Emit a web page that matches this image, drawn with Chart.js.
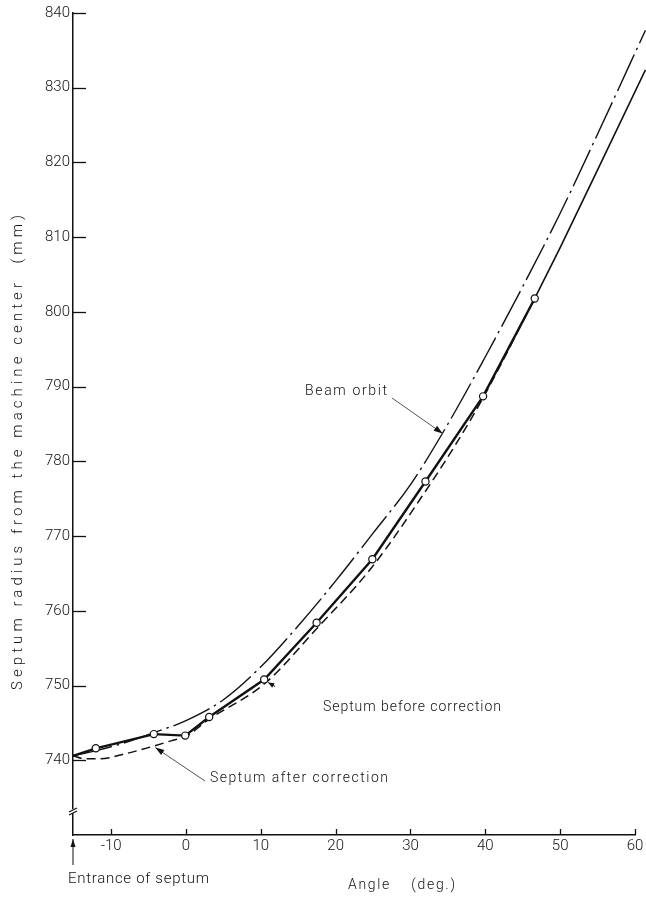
<!DOCTYPE html>
<html><head><meta charset="utf-8">
<script src="https://cdn.jsdelivr.net/npm/chart.js@4.4.0/dist/chart.umd.min.js"></script>
<style>html,body{margin:0;padding:0;background:#fff}canvas{display:block}</style>
</head><body>
<canvas id="c" width="646" height="897"></canvas>
<script>
// ---- tick labels ----
const xTicks = [-10, 0, 10, 20, 30, 40, 50, 60];
const yTicks = [740, 750, 760, 770, 780, 790, 800, 810, 820, 830, 840];

// ---- Beam orbit (dash-dot) ----
const beamAngle  = [-15.1, -12, -8, -4, 0, 5, 10, 15, 20, 25, 30, 35, 40, 45, 50, 55, 61.4];
const beamRadius = [740.6, 741.3, 742.4, 743.8, 745.3, 748.1, 752.5, 758.0, 764.0, 770.4, 776.9, 785.0, 794.0, 803.4, 813.2, 823.8, 837.7];

// ---- Septum before correction (solid) ----
const beforeAngle  = [-15.1, -12.05, -4.3, -0.1, 3.1, 10.45, 17.45, 24.9, 32.0, 39.7, 46.6, 50, 55, 61.4];
const beforeRadius = [740.6, 741.6, 743.5, 743.3, 745.8, 750.8, 758.4, 766.9, 777.3, 788.7, 801.8, 808.6, 819.0, 832.4];

// ---- measured points (open circles) ----
const measuredAngle  = [-12.05, -4.3, -0.1, 3.1, 10.45, 17.45, 24.9, 32.0, 39.7, 46.6];
const measuredRadius = [741.6, 743.5, 743.3, 745.8, 750.8, 758.4, 766.9, 777.3, 788.7, 801.8];

// ---- Septum after correction (dashed) ----
const afterAngle  = [-15.1, -13.5, -11.5, -8, -5, -2, 0, 3.1, 10.45, 17.45, 24.9, 32, 36, 39.7, 46.6];
const afterRadius = [740.6, 740.2, 740.2, 740.9, 741.7, 742.6, 743.2, 745.5, 750.2, 757.6, 765.9, 776.0, 782.2, 788.5, 801.8];

const entranceAngle = -15.1;

const INK = '#111';
const FAM = 'Roboto, "DejaVu Sans", sans-serif';

const pts = (xs, ys) => xs.map((v, i) => ({x: v, y: ys[i]}));
function interp(xs, ys, v) {
  for (let i = 0; i < xs.length - 1; i++) {
    if (v >= xs[i] && v <= xs[i+1]) {
      const t = (v - xs[i]) / (xs[i+1] - xs[i]);
      return ys[i] + t * (ys[i+1] - ys[i]);
    }
  }
  return ys[ys.length - 1];
}

function spacedText(ctx, str, x, y, width, size, rot) {
  ctx.save();
  ctx.font = `300 ${size}px ${FAM}`;
  ctx.fillStyle = INK;
  const has = ('letterSpacing' in ctx);
  if (has) {
    ctx.letterSpacing = '0px';
    const w0 = ctx.measureText(str).width;
    const s = Math.max(0, (width - w0) / (str.length - 1));
    ctx.letterSpacing = s.toFixed(2) + 'px';
  }
  ctx.textAlign = 'left';
  ctx.textBaseline = 'middle';
  ctx.translate(x, y);
  if (rot) ctx.rotate(rot);
  ctx.fillText(str, 0, 0);
  ctx.restore();
}

function arrow(ctx, x0, y0, x1, y1, len, half, color) {
  ctx.save();
  ctx.strokeStyle = color; ctx.lineWidth = 1;
  ctx.beginPath(); ctx.moveTo(x0, y0); ctx.lineTo(x1, y1); ctx.stroke();
  const a = Math.atan2(y1 - y0, x1 - x0);
  ctx.fillStyle = INK;
  ctx.beginPath();
  ctx.moveTo(x1, y1);
  ctx.lineTo(x1 - len * Math.cos(a) + half * Math.sin(a), y1 - len * Math.sin(a) - half * Math.cos(a));
  ctx.lineTo(x1 - len * Math.cos(a) - half * Math.sin(a), y1 - len * Math.sin(a) + half * Math.cos(a));
  ctx.closePath(); ctx.fill();
  ctx.restore();
}

const overlay = {
  id: 'overlay',
  afterDraw(chart) {
    const {ctx, chartArea: a, scales: {x, y}} = chart;
    ctx.save();
    ctx.strokeStyle = INK; ctx.lineWidth = 1.3;
    // inward tick marks
    yTicks.forEach(v => {
      const py = Math.round(y.getPixelForValue(v)) + 0.5;
      ctx.beginPath(); ctx.moveTo(a.left, py); ctx.lineTo(a.left + 13, py); ctx.stroke();
    });
    xTicks.forEach(v => {
      const px = Math.round(x.getPixelForValue(v)) + 0.5;
      ctx.beginPath(); ctx.moveTo(px, a.bottom); ctx.lineTo(px, a.bottom - 6); ctx.stroke();
    });
    // axis break symbol
    const by = y.getPixelForValue(733.2);
    ctx.fillStyle = '#fff';
    ctx.fillRect(a.left - 2, by - 2, 4, 4);
    ctx.lineWidth = 1.2;
    ctx.beginPath();
    ctx.moveTo(a.left - 4, by + 1); ctx.lineTo(a.left + 4, by - 3);
    ctx.moveTo(a.left - 4, by + 4); ctx.lineTo(a.left + 4, by);
    ctx.stroke();
    ctx.restore();

    // entrance arrow
    const ex = x.getPixelForValue(entranceAngle);
    arrow(ctx, ex, a.bottom + 30, ex, a.bottom + 4, 8, 2.5, INK);

    // annotations
    const bx = 34.3;
    arrow(ctx, 392, 398, x.getPixelForValue(bx), y.getPixelForValue(interp(beamAngle, beamRadius, bx)) + 1, 9, 3, '#555');
    const ax = -4.1;
    arrow(ctx, 205, 781, x.getPixelForValue(ax), y.getPixelForValue(interp(afterAngle, afterRadius, ax)) + 2, 9, 3, '#555');
    const cx = x.getPixelForValue(measuredAngle[4]), cy = y.getPixelForValue(measuredRadius[4]);
    arrow(ctx, cx + 11, cy + 7, cx + 4, cy + 3, 6, 2.5, INK);

    spacedText(ctx, 'Beam orbit', 305, 391, 82, 14);
    spacedText(ctx, 'Septum before correction', 323, 707, 178, 14);
    spacedText(ctx, 'Septum after correction', 210, 778, 178, 14);
    spacedText(ctx, 'Entrance of septum', 68, 879, 141, 15);
    spacedText(ctx, 'Angle    (deg.)', 348, 885, 107, 14);
    spacedText(ctx, 'Septum radius from the machine center  (mm)', 18, 690, 475, 15, -Math.PI / 2);
  }
};

const tickFont = {family: FAM, size: 15, weight: '300'};

new Chart(document.getElementById('c'), {
  type: 'line',
  data: {
    datasets: [
      {
        label: 'Septum before correction (measured)',
        data: pts(measuredAngle, measuredRadius),
        showLine: false, pointRadius: 3.6, pointBackgroundColor: '#fff',
        pointBorderColor: INK, pointBorderWidth: 1.2, order: 0
      },
      {
        label: 'Septum before correction',
        data: pts(beforeAngle, beforeRadius),
        borderColor: INK, borderWidth: 2.2, tension: 0, pointRadius: 0,
        segment: { borderWidth: c => c.p0.parsed.x >= 46 ? 1.6 : 2.4 },
        clip: false, order: 1
      },
      {
        label: 'Septum after correction',
        data: pts(afterAngle, afterRadius),
        borderColor: INK, borderWidth: 1.5, borderDash: [9, 5],
        cubicInterpolationMode: 'monotone', pointRadius: 0, clip: false, order: 2
      },
      {
        label: 'Beam orbit',
        data: pts(beamAngle, beamRadius),
        borderColor: INK, borderWidth: 1.4, borderDash: [40, 5, 2.5, 5],
        cubicInterpolationMode: 'monotone', pointRadius: 0, clip: false, order: 3
      }
    ]
  },
  options: {
    responsive: false,
    devicePixelRatio: 1,
    animation: false,
    layout: { padding: { top: 13, right: 11, left: 0, bottom: 0 } },
    plugins: { legend: { display: false }, tooltip: { enabled: false }, title: { display: false } },
    scales: {
      x: {
        type: 'linear', min: entranceAngle, max: 60,
        afterBuildTicks: s => { s.ticks = xTicks.map(v => ({value: v})); },
        afterFit: s => { s.height = 62; },
        grid: { display: false, drawTicks: false },
        border: { display: true, color: INK, width: 1.5 },
        ticks: { autoSkip: false, maxRotation: 0, padding: 2, color: INK, font: tickFont,
                 callback: v => (v < 0 ? '-' + Math.abs(v) : String(v)) }
      },
      y: {
        type: 'linear', min: 730, max: 840,
        afterBuildTicks: s => { s.ticks = yTicks.map(v => ({value: v})); },
        afterFit: s => { s.width = 73; },
        grid: { display: false, drawTicks: false },
        border: { display: true, color: INK, width: 1.5 },
        ticks: { autoSkip: false, padding: 3, color: INK, font: tickFont }
      }
    }
  },
  plugins: [overlay]
});
</script>
</body></html>
